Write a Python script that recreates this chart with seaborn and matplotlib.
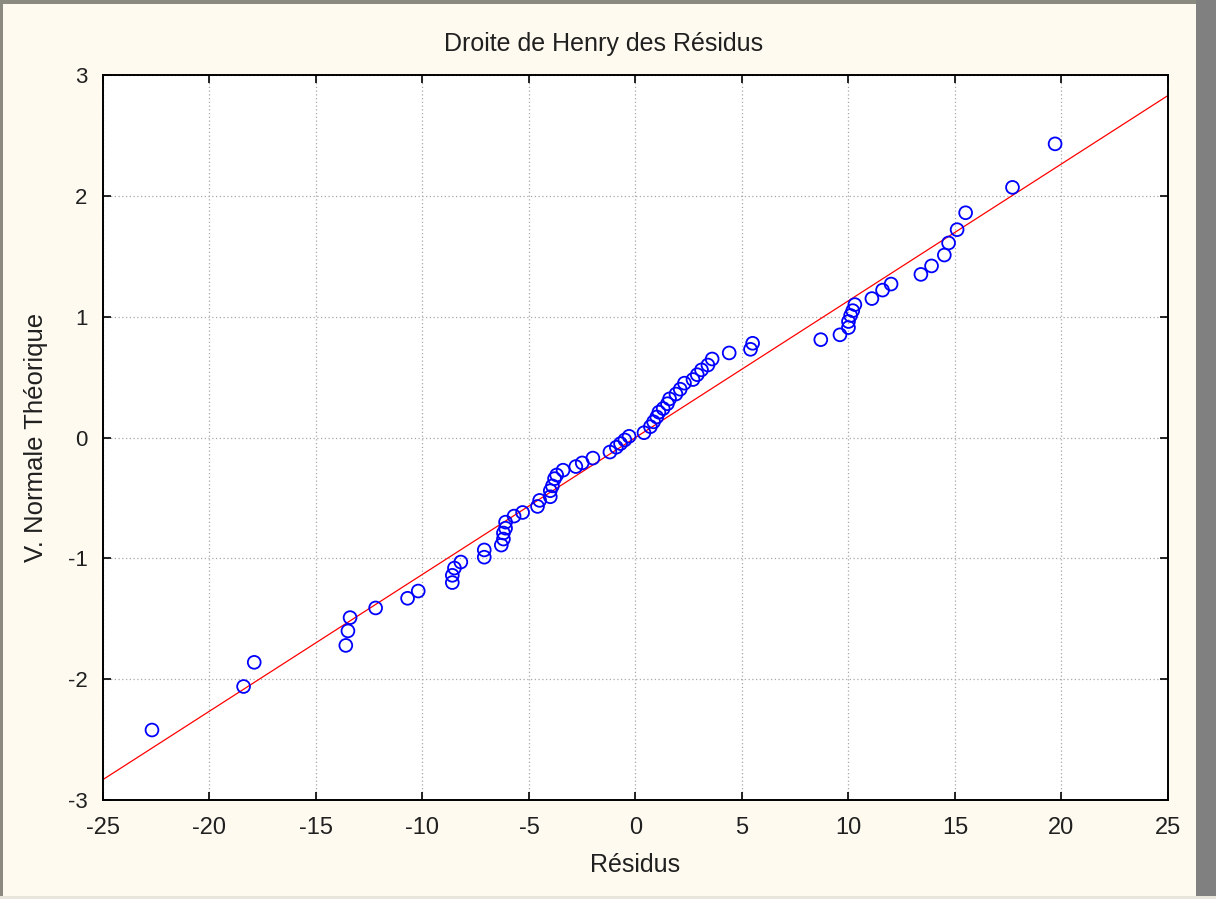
import matplotlib
matplotlib.use("Agg")
import matplotlib.pyplot as plt
from matplotlib.patches import Rectangle
import seaborn as sns
import pandas as pd

# Residuals (x) and theoretical normal quantiles (y)
residus = [
    -22.7, -18.4, -17.9, -13.6, -13.5, -13.4, -12.2, -10.7, -10.2, -8.6,
    -8.6, -8.5, -8.2, -7.1, -7.1, -6.3, -6.2, -6.2, -6.1, -6.1,
    -5.7, -5.3, -4.6, -4.5, -4.0, -4.0, -3.9, -3.8, -3.7, -3.4,
    -2.8, -2.5, -2.0, -1.2, -0.9, -0.7, -0.5, -0.3, 0.4, 0.7,
    0.85, 1.0, 1.1, 1.3, 1.5, 1.6, 1.9, 2.1, 2.3, 2.7,
    2.9, 3.1, 3.4, 3.6, 4.4, 5.4, 5.5, 8.7, 9.6, 10.0,
    10.0, 10.1, 10.2, 10.3, 11.1, 11.6, 12.0, 13.4, 13.9, 14.5,
    14.7, 15.1, 15.5, 17.7, 19.7,
]
normale_theorique = [
    -2.42, -2.06, -1.86, -1.72, -1.60, -1.49, -1.41, -1.33, -1.27, -1.20,
    -1.14, -1.08, -1.03, -0.99, -0.93, -0.89, -0.84, -0.79, -0.75, -0.70,
    -0.65, -0.62, -0.57, -0.52, -0.49, -0.44, -0.40, -0.34, -0.31, -0.27,
    -0.24, -0.21, -0.17, -0.12, -0.08, -0.05, -0.02, 0.01, 0.04, 0.09,
    0.13, 0.17, 0.21, 0.24, 0.28, 0.32, 0.36, 0.40, 0.45, 0.48,
    0.52, 0.56, 0.60, 0.65, 0.70, 0.73, 0.78, 0.81, 0.85, 0.91,
    0.96, 1.01, 1.05, 1.10, 1.15, 1.22, 1.27, 1.35, 1.42, 1.51,
    1.61, 1.72, 1.86, 2.07, 2.43,
]

# Henry line (reference line through the points)
droite_x = [-25, 25]
droite_y = [-2.83, 2.83]

x_ticks = [-25, -20, -15, -10, -5, 0, 5, 10, 15, 20, 25]
y_ticks = [-3, -2, -1, 0, 1, 2, 3]

points = pd.DataFrame({"Résidus": residus, "Normale": normale_theorique})
droite = pd.DataFrame({"x": droite_x, "y": droite_y})

sns.set_theme(style="white")
plt.rcParams["font.family"] = ["Liberation Sans", "DejaVu Sans"]

bg = "#FEFAEF"
fig = plt.figure(figsize=(12.16, 8.99), dpi=100, facecolor=bg)
ax = fig.add_axes([0.0847, 0.110, 0.8758, 0.8066])
ax.set_facecolor("white")

sns.lineplot(data=droite, x="x", y="y", ax=ax, color="red", linewidth=0.9, zorder=2)
sns.scatterplot(data=points, x="Résidus", y="Normale", ax=ax, marker="o",
                facecolors="none", edgecolor="blue", linewidth=1.3, s=85, zorder=3)

ax.set_xlim(-25, 25)
ax.set_ylim(-3, 3)
ax.set_xticks(x_ticks)
ax.set_yticks(y_ticks)
ax.set_xticklabels([str(v) for v in x_ticks])
ax.set_yticklabels([str(v) for v in y_ticks])

ax.grid(True, linestyle=(0, (1, 2)), color="#A8A8A8", linewidth=0.9)
ax.set_axisbelow(True)

for side in ["top", "bottom", "left", "right"]:
    ax.spines[side].set_visible(True)
    ax.spines[side].set_color("black")
    ax.spines[side].set_linewidth(1.4)

ax.tick_params(axis="both", which="major", direction="in", length=6, width=1.2,
               color="black", labelcolor="#202020",
               top=True, right=True, bottom=True, left=True)
ax.tick_params(axis="x", pad=12, labelsize=17)
ax.tick_params(axis="y", pad=11, labelsize=16)

ax.set_title("Droite de Henry des Résidus", fontsize=18, color="#202020",
             pad=17, x=0.470)
ax.set_xlabel("Résidus", fontsize=18, color="#202020", labelpad=10)
ax.set_ylabel("V. Normale Théorique", fontsize=18.5, color="#202020", labelpad=14)

# window frame around the chart
fig.add_artist(Rectangle((0, 1 - 4 / 899), 1, 4 / 899, transform=fig.transFigure,
                         facecolor="#8A8A80", edgecolor="none"))
fig.add_artist(Rectangle((0, 0), 3 / 1216, 1, transform=fig.transFigure,
                         facecolor="#8A8A80", edgecolor="none"))
fig.add_artist(Rectangle((1 - 20 / 1216, 0), 20 / 1216, 1, transform=fig.transFigure,
                         facecolor="#808080", edgecolor="none"))
fig.add_artist(Rectangle((0, 0), 1, 3 / 899, transform=fig.transFigure,
                         facecolor="#E8E6DC", edgecolor="none"))

fig.savefig("out.png", dpi=100, facecolor=bg)
